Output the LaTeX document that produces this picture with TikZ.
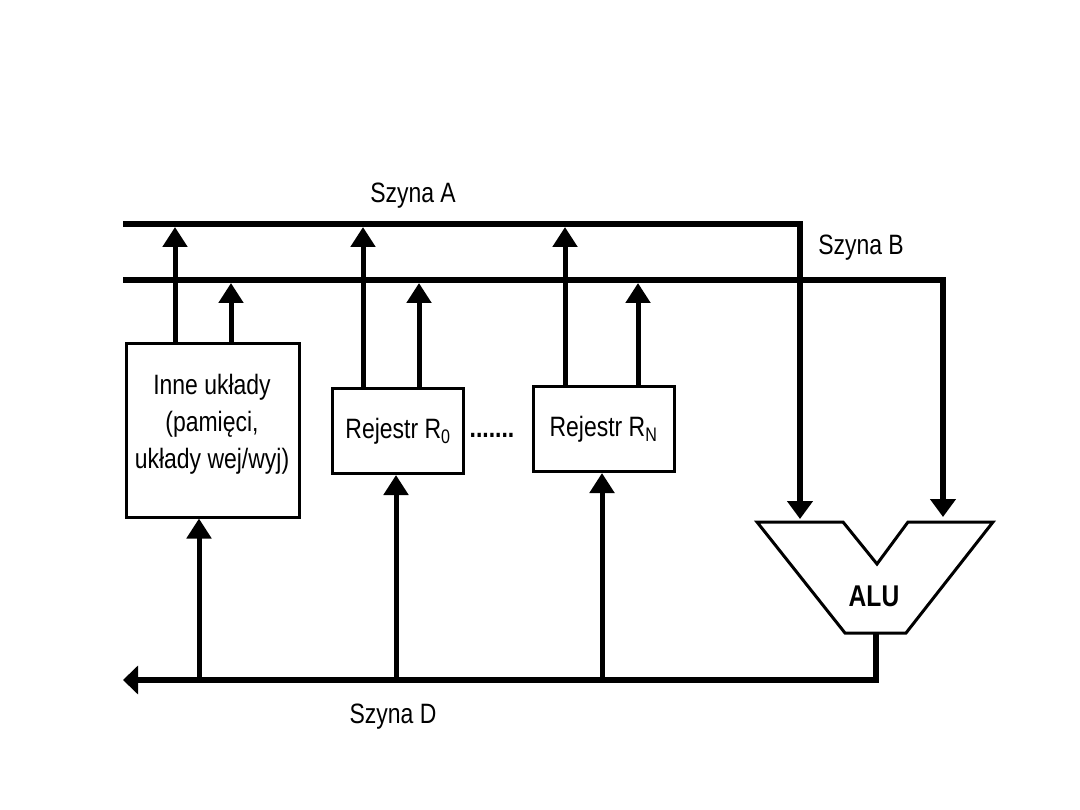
\documentclass[tikz,border=0pt]{standalone}
\usepackage{fontspec}
\setmainfont[FakeStretch=0.82]{Liberation Sans}
\usetikzlibrary{arrows.meta}
\begin{document}
\begin{tikzpicture}[x=1pt,y=-1pt,line join=miter,
  bus/.style={line width=6pt},
  up/.style={line width=5pt,-{Triangle[width=24pt,length=20pt]}},
  down/.style={line width=5.5pt,-{Triangle[width=25pt,length=18pt]}},
  left/.style={line width=6pt,-{Triangle[width=28pt,length=15pt]}},
  box/.style={draw,line width=3pt,inner sep=0pt,font=\fontsize{28}{37}\selectfont,align=center},
  lbl/.style={font=\fontsize{28}{33}\selectfont}]
\useasboundingbox (0,0) rectangle (1080,810);
% boxes
\node[box,minimum width=173pt,minimum height=173pt,text depth=0pt] (inne) at (212.5,430.5) {};
\node[font=\fontsize{28}{37}\selectfont,align=center] (innetxt) at (212,424) {Inne układy\\(pamięci,\\układy wej/wyj)};
\node[box,minimum width=131pt,minimum height=85pt] (r0) at (398,431) {Rejestr R\textsubscript{0}};
\node[box,minimum width=141pt,minimum height=85pt] (rn) at (603.5,429) {Rejestr R\textsubscript{N}};
\node[lbl,font=\fontsize{28}{33}\selectfont\bfseries] (dots) at (492,435) {.......};
% ALU
\draw[line width=3pt] (757,522) -- (843,522) -- (877,564) -- (908,522) -- (993,522) -- (906,633) -- (845,633) -- cycle;
\node[font=\fontsize{30}{33}\selectfont\bfseries] (alu) at (874,596) {ALU};
\coordinate (aluA) at (800,519);
\coordinate (aluB) at (943,517);
\coordinate (aluOut) at (876,633);
% bus coordinates
\coordinate (A0) at (123,224);
\coordinate (A1) at (800,224);
\coordinate (B0) at (123,280);
\coordinate (B1) at (943,280);
\coordinate (D0) at (123,680);
\coordinate (D1) at (876,680);
% buses
\draw[down] (A0) -- (A1) -- (aluA);
\draw[down] (B0) -- (B1) -- (aluB);
\draw[left] (aluOut) -- (D1) -- (D0);
% bus taps
\coordinate (ia) at (175,227);
\coordinate (ib) at (231,283);
\coordinate (ra) at (363,227);
\coordinate (rb) at (419,283);
\coordinate (na) at (565,227);
\coordinate (nb) at (638,283);
\coordinate (id) at (199,680);
\coordinate (rd) at (396,680);
\coordinate (nd) at (602,680);
\draw[up] (inne.north -| ia) -- (ia);
\draw[up] (inne.north -| ib) -- (ib);
\draw[up] (r0.north -| ra) -- (ra);
\draw[up] (r0.north -| rb) -- (rb);
\draw[up] (rn.north -| na) -- (na);
\draw[up] (rn.north -| nb) -- (nb);
\draw[up] (id) -- (inne.south -| id);
\draw[up] (rd) -- (r0.south -| rd);
\draw[up] (nd) -- (rn.south -| nd);
% labels
\node[lbl] (la) at (413,196) {Szyna A};
\node[lbl] (lb) at (861,248) {Szyna B};
\node[lbl] (ld) at (393,717) {Szyna D};
\end{tikzpicture}
\end{document}
